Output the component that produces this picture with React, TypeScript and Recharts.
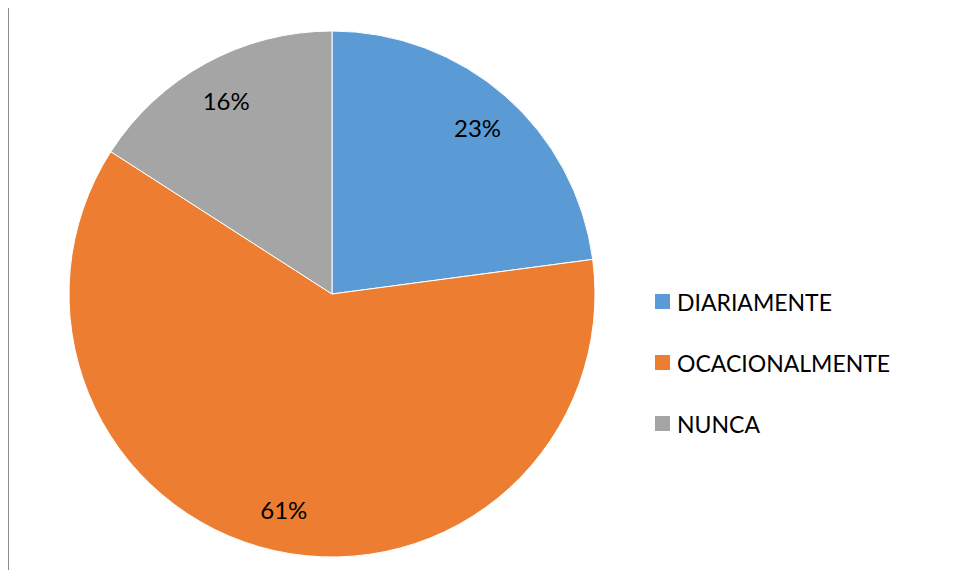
import React from 'react';
import { PieChart, Pie, Cell, Legend } from 'recharts';

const categories = ['DIARIAMENTE', 'OCACIONALMENTE', 'NUNCA'];
const values = [22.9, 61.2, 15.9];
const colors = ['#5B9BD5', '#ED7D31', '#A5A5A5'];

const data = categories.map((name, i) => ({ name, value: values[i] }));

const FONT = 'Lato, "Open Sans", sans-serif';
const RAD = Math.PI / 180;

const renderLabel = (props: any) => {
  const { cx, cy, midAngle, outerRadius, percent } = props;
  const r = outerRadius * 0.84;
  const x = cx + r * Math.cos(-midAngle * RAD);
  const y = cy + r * Math.sin(-midAngle * RAD);
  return (
    <text
      x={x}
      y={y}
      fill="#000"
      textAnchor="middle"
      dominantBaseline="central"
      fontFamily={FONT}
      fontSize={24}
    >
      {`${Math.round(percent * 100)}%`}
    </text>
  );
};

const renderLegend = () => {
  return (
    <div style={{ fontFamily: FONT, fontSize: 23, color: '#000' }}>
      {categories.map((name, i) => (
        <div
          key={name}
          style={{ display: 'flex', alignItems: 'center', height: 61 }}
        >
          <span
            style={{
              display: 'inline-block',
              width: 15,
              height: 15,
              background: colors[i],
              marginRight: 7,
            }}
          />
          <span>{name}</span>
        </div>
      ))}
    </div>
  );
};

export default function App() {
  return (
    <div style={{ position: 'relative', width: 942, height: 562 }}>
      <div
        style={{
          position: 'absolute',
          left: -1,
          top: -3,
          width: 951,
          height: 573,
          borderTop: '3px solid #8a8a8a',
          borderLeft: '2px solid #8a8a8a',
          boxSizing: 'border-box',
        }}
      />
      <div style={{ position: 'absolute', left: -8, top: -8 }}>
        <PieChart width={958} height={578} margin={{ top: 0, right: 0, bottom: 0, left: 0 }}>
          <Pie
            data={data}
            dataKey="value"
            nameKey="name"
            cx={332}
            cy={294}
            outerRadius={263}
            startAngle={90}
            endAngle={-270}
            stroke="#fff"
            strokeWidth={1}
            label={renderLabel}
            labelLine={false}
            isAnimationActive={false}
          >
            {data.map((d, i) => (
              <Cell key={d.name} fill={colors[i]} />
            ))}
          </Pie>
          <Legend
            layout="vertical"
            content={renderLegend}
            wrapperStyle={{ position: 'absolute', left: 655, top: 271, width: 300 }}
          />
        </PieChart>
      </div>
    </div>
  );
}
